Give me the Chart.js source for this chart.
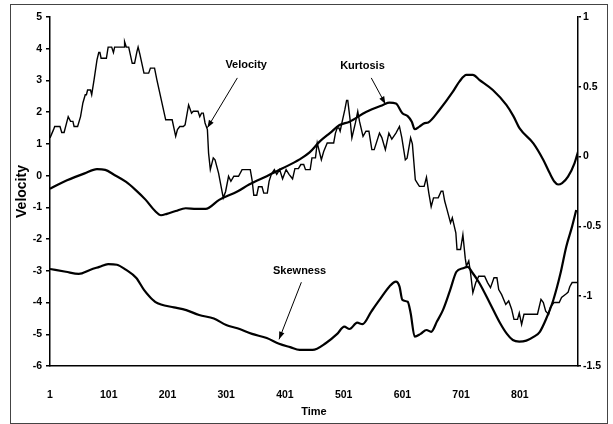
<!DOCTYPE html>
<html>
<head>
<meta charset="utf-8">
<script src="https://cdn.jsdelivr.net/npm/chart.js@4.4.0/dist/chart.umd.min.js"></script>
<style>
  body { margin: 0; background: #fff; }
  .wrap { position: relative; width: 613px; height: 424px; }
  .wrap canvas { display: block; }
  .frame { position: absolute; left: 10px; top: 4px; width: 596px; height: 418px; border: 1px solid #444; pointer-events: none; }
</style>
</head>
<body>
<div class="wrap">
  <canvas id="chart" width="613" height="424"></canvas>
  <div class="frame"></div>
</div>
<script>
// x tick labels
const timeTicks = [1, 101, 201, 301, 401, 501, 601, 701, 801];

// Velocity (left axis)
const velTime = [1, 7, 9, 18, 21, 25, 32, 36, 40, 42, 48, 53, 57, 61, 63, 65, 70, 72, 76, 81, 84, 86, 88, 97,
  100, 106, 109, 111, 127, 128, 131, 135, 141, 145, 149, 151, 154, 161, 169, 172, 179, 183, 198, 209, 215,
  218, 222, 228, 231, 237, 242, 245, 253, 256, 259, 262, 265, 269, 271, 274, 279, 282, 288, 296, 300, 305,
  309, 314, 322, 328, 342, 345, 348, 353, 356, 362, 365, 371, 374, 378, 383, 387, 392, 397, 403, 408, 414,
  418, 424, 428, 433, 436, 444, 447, 453, 456, 463, 467, 473, 484, 487, 490, 493, 495, 498, 503, 506, 508,
  512, 515, 521, 525, 528, 534, 539, 544, 549, 553, 562, 566, 572, 578, 583, 590, 596, 600, 606, 609, 615,
  618, 623, 627, 630, 638, 642, 646, 650, 654, 662, 667, 670, 673, 677, 683, 686, 692, 694, 700, 704, 708,
  710, 714, 717, 721, 726, 731, 741, 746, 751, 757, 762, 765, 770, 777, 782, 787, 791, 797, 800, 804, 808,
  831, 837, 841, 845, 850, 853, 859, 868, 872, 879, 883, 886, 890, 899];
const velValue = [1.19, 1.45, 1.55, 1.55, 1.36, 1.36, 1.86, 1.71, 1.71, 1.55, 1.55, 1.86, 2.29, 2.55, 2.55, 2.70, 2.70, 2.55, 3.02, 3.65, 3.88, 3.88, 3.70, 3.70,
  4.05, 4.05, 3.88, 4.05, 4.05, 4.22, 4.05, 4.05, 3.54, 3.54, 3.91, 4.05, 3.83, 3.23, 3.23, 3.39, 3.39, 3.02, 1.76, 1.76, 1.24,
  1.45, 1.55, 1.55, 1.60, 2.23, 1.97, 2.03, 2.03, 1.86, 1.97, 1.97, 1.66, 1.45, 0.71, 0.19, 0.56, 0.50, 0.08, -0.70, -0.50, -0.02,
  -0.18, -0.02, -0.02, 0.19, 0.19, -0.13, -0.62, -0.62, -0.35, -0.35, -0.55, -0.55, -0.18, 0.05, 0.19, 0.04, 0.19, -0.10, 0.19, 0.04, -0.10,
  0.22, 0.22, 0.35, 0.35, 0.19, 0.19, 0.56, 0.56, 1.03, 0.50, 0.76, 1.03, 1.03, 1.34, 1.50, 1.50, 1.40, 1.66, 2.08, 2.37, 2.37,
  1.76, 1.19, 1.66, 2.02, 1.71, 1.24, 1.40, 1.40, 0.82, 0.82, 1.34, 1.20, 0.82, 1.34, 1.15, 1.34, 1.55, 1.20, 0.50, 0.55, 1.19,
  1.00, -0.13, -0.25, -0.34, -0.34, -0.05, -0.55, -0.98, -0.70, -0.70, -0.49, -0.49, -0.80, -1.07, -1.49, -1.33, -1.80, -2.33, -2.33, -1.86, -2.60,
  -2.85, -2.69, -3.06, -3.69, -3.37, -3.17, -3.17, -3.37, -3.53, -3.22, -3.22, -3.59, -3.75, -4.06, -3.95, -4.21, -4.53, -4.53, -4.33, -4.69, -4.37,
  -4.37, -3.90, -4.00, -4.27, -4.37, -4.15, -4.00, -4.00, -3.84, -3.74, -3.68, -3.50, -3.37, -3.37];

// Kurtosis (right axis)
const kurtTime = [1, 30, 60, 81, 95, 110, 130, 147, 164, 180, 190, 200, 215, 232, 250, 266, 289, 320, 340, 370,
  397, 426, 443, 460, 478, 494, 511, 539, 568, 579, 590, 601, 610, 617, 622, 630, 639, 645, 664, 687, 698,
  710, 721, 732, 755, 778, 790, 801, 824, 841, 852, 860, 866, 873, 883, 894, 900];
const kurtValue = [-0.23, -0.17, -0.12, -0.09, -0.095, -0.13, -0.18, -0.24, -0.31, -0.39, -0.42, -0.41, -0.39, -0.37, -0.375, -0.375, -0.31, -0.25, -0.20, -0.14,
  -0.084, -0.02, 0.03, 0.107, 0.17, 0.226, 0.25, 0.32, 0.37, 0.386, 0.38, 0.31, 0.29, 0.25, 0.196, 0.215, 0.24, 0.245, 0.334, 0.465, 0.537,
  0.585, 0.585, 0.55, 0.477, 0.37, 0.29, 0.20, 0.095, -0.024, -0.12, -0.18, -0.20, -0.19, -0.144, -0.048, 0.035];

// Skewness (right axis)
const skewTime = [1, 28, 50, 70, 85, 100, 115, 130, 148, 161, 170, 180, 190, 212, 233, 255, 280, 301, 320, 345,
  370, 391, 410, 426, 448, 471, 490, 502, 511, 524, 533, 548, 562, 579, 590, 596, 601, 610, 615, 622, 632,
  642, 650, 660, 670, 682, 693, 704, 712, 720, 732, 750, 767, 779, 789, 800, 812, 825, 835, 846, 858, 870,
  880, 890, 897];
const skewValue = [-0.805, -0.825, -0.84, -0.81, -0.79, -0.77, -0.775, -0.81, -0.87, -0.955, -1.0, -1.04, -1.06, -1.08, -1.10, -1.135, -1.16, -1.206, -1.23, -1.27,
  -1.30, -1.34, -1.365, -1.385, -1.385, -1.335, -1.27, -1.218, -1.235, -1.19, -1.20, -1.11, -1.027, -0.93, -0.896, -0.93, -1.027, -1.04, -1.12, -1.29, -1.27,
  -1.242, -1.255, -1.18, -1.10, -0.96, -0.825, -0.80, -0.79, -0.83, -0.905, -1.05, -1.19, -1.27, -1.314, -1.325, -1.318, -1.29, -1.255, -1.16, -1.027, -0.84,
  -0.645, -0.50, -0.383];

// callout labels: text position and arrow (time, left-axis value)
const notes = [
  { text: 'Velocity', at: [335, 3.49], from: [320, 3.08], to: [269, 1.51] },
  { text: 'Kurtosis', at: [533, 3.46], from: [548, 3.08], to: [572, 2.26] },
  { text: 'Skewness', at: [426, -2.99], from: [429, -3.36], to: [391, -5.16] }
];

const narrow = "'Liberation Sans Narrow', 'Liberation Sans', sans-serif";
const tickFont = { family: narrow, size: 10.5, weight: 'bold' };

function pts(xs, ys) {
  return xs.map((x, i) => ({ x: x, y: ys[i] }));
}

const calloutPlugin = {
  id: 'callouts',
  afterDatasetsDraw(chart) {
    const ctx = chart.ctx;
    const xs = chart.scales.x, ys = chart.scales.y;
    ctx.save();
    ctx.fillStyle = '#000';
    ctx.strokeStyle = '#000';
    ctx.font = 'bold 11px ' + narrow;
    ctx.textAlign = 'center';
    ctx.textBaseline = 'middle';
    notes.forEach(n => {
      ctx.fillText(n.text, xs.getPixelForValue(n.at[0]), ys.getPixelForValue(n.at[1]));
      const x1 = xs.getPixelForValue(n.from[0]), y1 = ys.getPixelForValue(n.from[1]);
      const x2 = xs.getPixelForValue(n.to[0]), y2 = ys.getPixelForValue(n.to[1]);
      ctx.lineWidth = 1;
      ctx.beginPath();
      ctx.moveTo(x1, y1);
      ctx.lineTo(x2, y2);
      ctx.stroke();
      // arrow head
      const a = Math.atan2(y2 - y1, x2 - x1);
      ctx.beginPath();
      ctx.moveTo(x2, y2);
      ctx.lineTo(x2 - 8 * Math.cos(a - 0.35), y2 - 8 * Math.sin(a - 0.35));
      ctx.lineTo(x2 - 8 * Math.cos(a + 0.35), y2 - 8 * Math.sin(a + 0.35));
      ctx.closePath();
      ctx.fill();
    });
    ctx.restore();
  }
};

new Chart(document.getElementById('chart'), {
  type: 'line',
  data: {
    datasets: [
      { label: 'Velocity', data: pts(velTime, velValue), yAxisID: 'y', borderColor: '#000', borderWidth: 1.4, tension: 0 },
      { label: 'Kurtosis', data: pts(kurtTime, kurtValue), yAxisID: 'y2', borderColor: '#000', borderWidth: 2.2, cubicInterpolationMode: 'monotone' },
      { label: 'Skewness', data: pts(skewTime, skewValue), yAxisID: 'y2', borderColor: '#000', borderWidth: 2.2, cubicInterpolationMode: 'monotone' }
    ]
  },
  options: {
    responsive: false,
    animation: false,
    layout: { padding: { top: 17, left: 0, right: 0, bottom: 0 } },
    elements: { point: { radius: 0 } },
    plugins: {
      legend: { display: false },
      tooltip: { enabled: false }
    },
    scales: {
      x: {
        type: 'linear',
        min: 1,
        max: 900,
        afterBuildTicks: s => { s.ticks = timeTicks.map(v => ({ value: v })); },
        afterFit: s => { s.height = 58; },
        grid: { display: false },
        border: { display: true, color: '#000', width: 1.5 },
        ticks: { color: '#000', font: tickFont, padding: 15, maxRotation: 0, autoSkip: false },
        title: { display: true, text: 'Time', color: '#000', font: { family: narrow, size: 11, weight: 'bold' }, padding: { top: 0, bottom: 5 } }
      },
      y: {
        position: 'left',
        min: -6,
        max: 5,
        afterFit: s => { s.width = 50; },
        grid: { drawOnChartArea: false, drawTicks: true, tickLength: 4, color: '#000', lineWidth: 1.5 },
        border: { display: true, color: '#000', width: 1.5 },
        ticks: { stepSize: 1, color: '#000', font: tickFont, padding: 4 },
        title: { display: true, text: 'Velocity', color: '#000', font: { family: "'Liberation Sans', sans-serif", size: 14, weight: 'bold' }, padding: { top: 14, bottom: 0 } }
      },
      y2: {
        position: 'right',
        min: -1.5,
        max: 1,
        afterFit: s => { s.width = 35; },
        grid: { drawOnChartArea: false, drawTicks: true, tickLength: 3, color: '#000', lineWidth: 1.5 },
        border: { display: true, color: '#000', width: 1.5 },
        ticks: { stepSize: 0.5, color: '#000', font: tickFont, padding: 2, callback: v => String(v) }
      }
    }
  },
  plugins: [calloutPlugin]
});
</script>
</body>
</html>
